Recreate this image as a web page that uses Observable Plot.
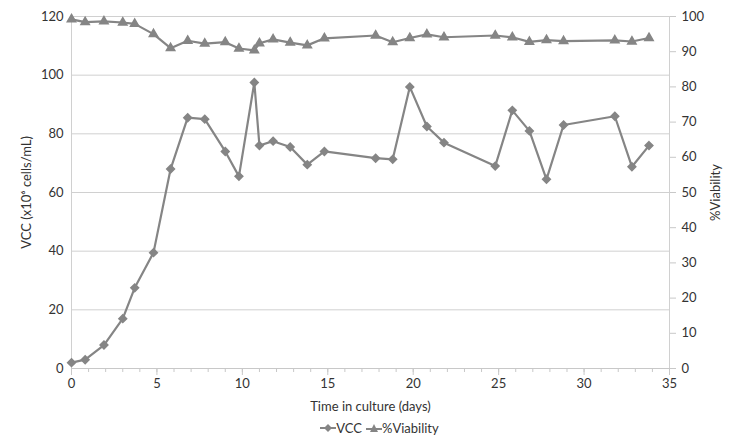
<!DOCTYPE html>
<html><head><meta charset="utf-8">
<script src="https://cdn.jsdelivr.net/npm/d3@7"></script>
<script src="https://cdn.jsdelivr.net/npm/@observablehq/plot@0.6"></script>
<style>
body{margin:0;background:#fff;font-family:Lato,"Noto Sans",sans-serif;}
#legend{display:flex;justify-content:center;gap:4px;font-size:13px;color:#333;margin-top:2px;margin-left:20px}
#legend span{display:flex;align-items:center}
</style></head><body>
<div id="grafico"></div>
<div id="legend">
  <span><svg width="16" height="10"><line x1="0" y1="5" x2="16" y2="5" stroke="#858585" stroke-width="2"/><path d="M8 1L12 5L8 9L4 5Z" fill="#858585"/></svg>VCC</span>
  <span><svg width="16" height="10"><line x1="0" y1="6" x2="16" y2="6" stroke="#858585" stroke-width="2"/><path d="M8 1L12 9L4 9Z" fill="#858585"/></svg>%Viability</span>
</div>
<script>
const dias = [0,0.8,1.9,3,3.7,4.8,5.8,6.8,7.8,9,9.8,10.7,11,11.8,12.8,13.8,14.8,17.8,18.8,19.8,20.8,21.8,24.8,25.8,26.8,27.8,28.8,31.8,32.8,33.8];
const vcc = [2,3,8,17,27.5,39.5,68,85.5,85,74,65.5,97.5,76,77.5,75.5,69.5,74,71.7,71.3,96,82.5,77,69,88,81,64.5,83,86,68.8,76];
const viabilidad = [99.2,98.4,98.6,98.3,97.9,95,91,93.1,92.3,92.7,90.9,90.4,92.4,93.5,92.6,91.8,93.8,94.6,92.7,93.9,94.9,94.1,94.6,94.1,92.8,93.3,93.0,93.2,92.9,93.9];

const color = "#858585";
const factor = 1.2; // 100 % -> 120 en el eje izquierdo
const datos = dias.map((d,i) => ({dia: d, vcc: vcc[i], via: viabilidad[i] * factor}));

const chart = Plot.plot({
  width: 739, height: 418,
  marginLeft: 71, marginRight: 70, marginTop: 16, marginBottom: 50,
  style: {fontFamily: "Lato, 'Noto Sans', sans-serif", fontSize: "13px", color: "#333"},
  x: {domain: [0, 35]},
  y: {domain: [0, 120]},
  marks: [
    Plot.gridY(d3.range(20, 121, 20), {stroke: "#d0d0d0", strokeOpacity: 1}),
    Plot.ruleX([0, 35], {stroke: "#d0d0d0"}),
    Plot.ruleY([0], {stroke: "#c8c8c8"}),
    Plot.axisX(d3.range(0, 36), {tickSize: 4, stroke: "#c8c8c8", tickFormat: () => "", label: null}),
    Plot.axisX(d3.range(0, 36, 5), {tickSize: 7, stroke: "#c8c8c8", tickPadding: 3, label: "Time in culture (days)", labelAnchor: "center", labelArrow: "none", labelOffset: 42, fontSize: 13}),
    Plot.axisY(d3.range(0, 121, 20), {anchor: "left", tickSize: 0, tickPadding: 8, label: "VCC (x10⁶ cells/mL)", labelAnchor: "center", labelArrow: "none", labelOffset: 50}),
    Plot.axisY(d3.range(0, 121, 12), {anchor: "right", tickSize: 6, stroke: "#c8c8c8", tickPadding: 6, tickFormat: d => Math.round(d / factor), label: "%Viability", labelAnchor: "center", labelArrow: "none", labelOffset: 50}),
    Plot.line(datos, {x: "dia", y: "vcc", stroke: color, strokeWidth: 2.2}),
    Plot.dot(datos, {x: "dia", y: "vcc", symbol: "diamond2", r: 3.5, fill: color, stroke: color}),
    Plot.line(datos, {x: "dia", y: "via", stroke: color, strokeWidth: 2.2}),
    Plot.dot(datos, {x: "dia", y: "via", symbol: "triangle2", r: 4, fill: color, stroke: color})
  ]
});
document.getElementById("grafico").append(chart);
</script>
</body></html>
